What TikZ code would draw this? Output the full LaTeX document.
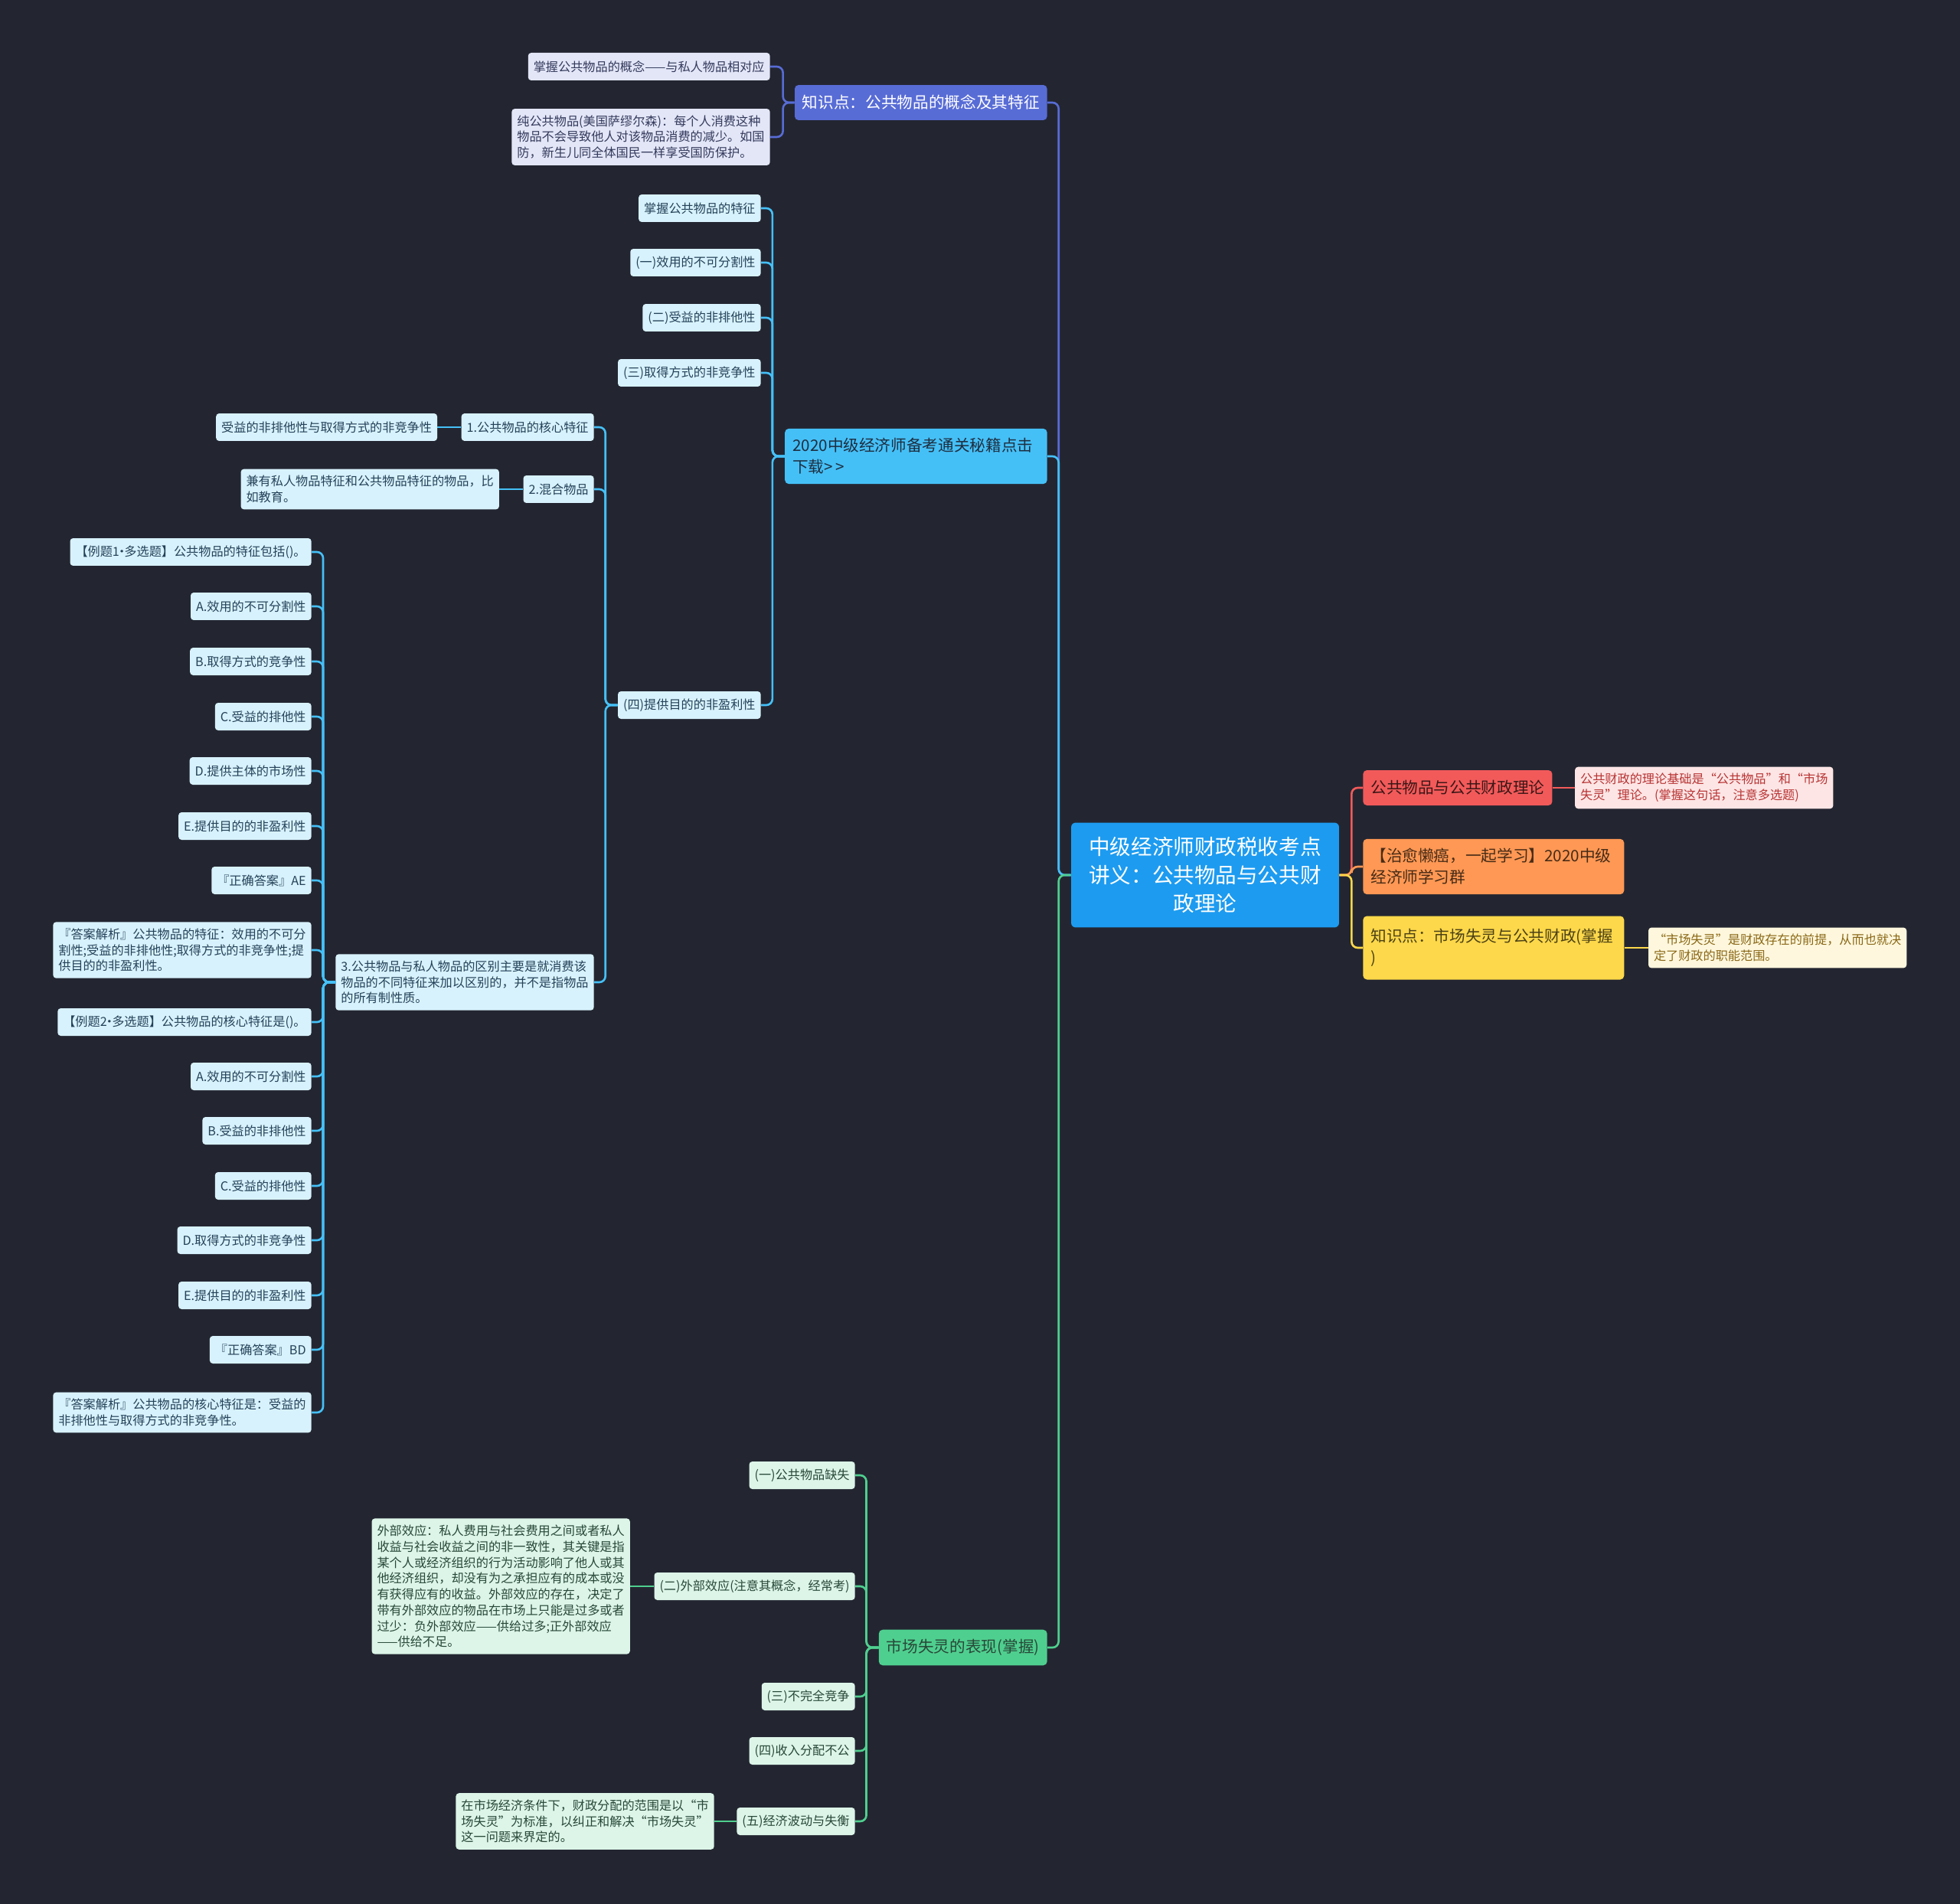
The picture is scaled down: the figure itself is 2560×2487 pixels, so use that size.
\documentclass[tikz,border=0pt]{standalone}
\usepackage{fontspec}
\setmainfont{Noto Sans CJK SC}
\usetikzlibrary{positioning}
\definecolor{bgdark}{RGB}{35,38,49}
\definecolor{RootBlue}{RGB}{29,155,240}
\definecolor{BrIndigo}{RGB}{88,108,214}
\definecolor{BrSky}{RGB}{69,192,247}
\definecolor{BrGreen}{RGB}{79,207,143}
\definecolor{BrRed}{RGB}{242,90,90}
\definecolor{BrOrange}{RGB}{254,152,84}
\definecolor{BrYellow}{RGB}{253,216,74}
\definecolor{FillIndigo}{RGB}{227,230,247}
\definecolor{FillSky}{RGB}{216,242,253}
\definecolor{FillGreen}{RGB}{220,245,232}
\definecolor{FillRed}{RGB}{253,229,229}
\definecolor{FillYellow}{RGB}{254,247,221}
\definecolor{InkIndigo}{RGB}{52,58,92}
\definecolor{InkSky}{RGB}{36,66,88}
\definecolor{InkGreen}{RGB}{40,72,56}
\definecolor{InkRed}{RGB}{184,52,52}
\definecolor{InkYellow}{RGB}{138,104,22}
\definecolor{InkMain}{RGB}{30,46,64}
\newcommand{\mdot}{\kern-0.3em·\kern-0.3em}

\tikzset{
  leaf/.style={rounded corners=0.08cm, font=\fontsize{9.2}{11.8}\selectfont, align=left,
    inner xsep=0.14cm, inner ysep=0.17cm, minimum height=0.72cm},
  leafA/.style={leaf, fill=FillIndigo, text=InkIndigo},
  leafB/.style={leaf, fill=FillSky, text=InkSky},
  leafC/.style={leaf, fill=FillGreen, text=InkGreen},
  leafR/.style={leaf, fill=FillRed, text=InkRed},
  leafY/.style={leaf, fill=FillYellow, text=InkYellow},
  main/.style={rounded corners=0.1cm, fill=#1, font=\fontsize{11.75}{16}\selectfont, align=left,
    inner xsep=0.2cm, inner ysep=0.25cm, minimum height=0.92cm},
  root/.style={rounded corners=0.12cm, fill=RootBlue, text=white, font=\fontsize{15.7}{20.8}\selectfont,
    align=center, minimum width=7cm, minimum height=2.74cm},
  link/.style={draw=#1, line width=1.5pt, rounded corners=0.16cm},
}

\begin{document}
\begin{tikzpicture}[x=0.02cm, y=-0.02cm]
  \fill[bgdark] (0,0) rectangle (2560,2487);
  \useasboundingbox (0,0) rectangle (2560,2487);

  % centre
  \node[root] (root) at (1574,1143) {中级经济师财政税收考点\\讲义：公共物品与公共财\\政理论};

  % left main topics
  \node[main=BrIndigo, text=white, anchor=east] (kA) at (1368,134) {知识点：公共物品的概念及其特征};
  \node[main=BrSky, text=InkMain, anchor=east, text width=6.45cm] (kB) at (1368,596) {2020中级经济师备考通关秘籍点击\\下载{>}\,{>}};
  \node[main=BrGreen, text=InkGreen, anchor=east] (kC) at (1368,2152) {市场失灵的表现(掌握)};

  % right main topics
  \node[main=BrRed, text=black!75!BrRed, anchor=west] (r1) at (1780,1029) {公共物品与公共财政理论};
  \node[main=BrOrange, text=black!72!BrOrange, anchor=west, text width=6.42cm] (r2) at (1780,1132) {【治愈懒癌，一起学习】2020中级\\经济师学习群};
  \node[main=BrYellow, text=black!70!BrYellow, anchor=west, text width=6.42cm, minimum height=1.66cm] (r3) at (1780,1238) {知识点：市场失灵与公共财政(掌握\\)};
  \node[leafR, right=0.58cm of r1] (r1a) {公共财政的理论基础是“公共物品”和“市场\\失灵”理论。(掌握这句话，注意多选题)};
  \node[leafY, right=0.62cm of r3] (r3a) {“市场失灵”是财政存在的前提，从而也就决\\定了财政的职能范围。};

  % concept of public goods
  \node[leafA, anchor=east] (kA1) at (1006,87) {掌握公共物品的概念——与私人物品相对应};
  \node[leafA, anchor=east] (kA2) at (1006,179) {纯公共物品(美国萨缪尔森)：每个人消费这种\\物品不会导致他人对该物品消费的减少。如国\\防，新生儿同全体国民一样享受国防保护。};

  % features
  \foreach \n/\y/\t in {kB1/272/{掌握公共物品的特征}, kB2/343/{(一)效用的不可分割性},
      kB3/415/{(二)受益的非排他性}, kB4/487/{(三)取得方式的非竞争性}, kB5/921/{(四)提供目的的非盈利性}}
    \node[leafB, anchor=east] (\n) at (994,\y) {\t};

  \node[leafB, anchor=east] (c1) at (776,558) {1.公共物品的核心特征};
  \node[leafB, left=0.62cm of c1] (c1a) {受益的非排他性与取得方式的非竞争性};
  \node[leafB, anchor=east] (c2) at (776,639) {2.混合物品};
  \node[leafB, left=0.62cm of c2] (c2a) {兼有私人物品特征和公共物品特征的物品，比\\如教育。};
  \node[leafB, anchor=east] (c3) at (776,1283) {3.公共物品与私人物品的区别主要是就消费该\\物品的不同特征来加以区别的，并不是指物品\\的所有制性质。};

  % exercises
  \foreach \n/\y/\t in {d1/721/{【例题1\mdot 多选题】公共物品的特征包括()。}, d2/792/{A.效用的不可分割性},
      d3/864/{B.取得方式的竞争性}, d4/936/{C.受益的排他性}, d5/1007/{D.提供主体的市场性},
      d6/1079/{E.提供目的的非盈利性}, d7/1150/{『正确答案』AE},
      d8/1241/{『答案解析』公共物品的特征：效用的不可分\\割性;受益的非排他性;取得方式的非竞争性;提\\供目的的非盈利性。},
      d9/1335/{【例题2\mdot 多选题】公共物品的核心特征是()。}, d10/1406/{A.效用的不可分割性},
      d11/1477/{B.受益的非排他性}, d12/1549/{C.受益的排他性}, d13/1620/{D.取得方式的非竞争性},
      d14/1692/{E.提供目的的非盈利性}, d15/1763/{『正确答案』BD},
      d16/1845/{『答案解析』公共物品的核心特征是：受益的\\非排他性与取得方式的非竞争性。}}
    \node[leafB, anchor=east] (\n) at (407,\y) {\t};

  % market failure
  \foreach \n/\y/\t in {e1/1927/{(一)公共物品缺失}, e2/2072/{(二)外部效应(注意其概念，经常考)},
      e3/2216/{(三)不完全竞争}, e4/2287/{(四)收入分配不公}, e5/2379/{(五)经济波动与失衡}}
    \node[leafC, anchor=east] (\n) at (1117,\y) {\t};
  \node[leafC, left=0.62cm of e2] (e2a) {外部效应：私人费用与社会费用之间或者私人\\收益与社会收益之间的非一致性，其关键是指\\某个人或经济组织的行为活动影响了他人或其\\他经济组织，却没有为之承担应有的成本或没\\有获得应有的收益。外部效应的存在，决定了\\带有外部效应的物品在市场上只能是过多或者\\过少：负外部效应——供给过多;正外部效应\\——供给不足。};
  \node[leafC, left=0.58cm of e5] (e5a) {在市场经济条件下，财政分配的范围是以“市\\场失灵”为标准，以纠正和解决“市场失灵”\\这一问题来界定的。};

  % connectors
  \draw[link=BrIndigo] (root.west) -- ++(-16,0) |- (kA.east);
  \draw[link=BrSky] (root.west) -- ++(-16,0) |- (kB.east);
  \draw[link=BrGreen] (root.west) -- ++(-16,0) |- (kC.east);
  \foreach \n/\c in {r1/BrRed, r2/BrOrange, r3/BrYellow}
    \draw[link=\c] (root.east) -- ++(16,0) |- (\n.west);
  \draw[link=BrRed] (r1.east) -- (r1a.west);
  \draw[link=BrYellow] (r3.east) -- (r3a.west);

  \foreach \n in {kA1,kA2}
    \draw[link=BrIndigo] (kA.west) -- ++(-15,0) |- (\n.east);
  \foreach \n in {kB1,kB2,kB3,kB4,kB5}
    \draw[link=BrSky] (kB.west) -- ++(-16,0) |- (\n.east);
  \foreach \n in {c1,c2,c3}
    \draw[link=BrSky] (kB5.west) -- ++(-16,0) |- (\n.east);
  \draw[link=BrSky] (c1.west) -- (c1a.east);
  \draw[link=BrSky] (c2.west) -- (c2a.east);
  \foreach \i in {1,...,16}
    \draw[link=BrSky] (c3.west) -- ++(-16,0) |- (d\i.east);

  \foreach \i in {1,...,5}
    \draw[link=BrGreen] (kC.west) -- ++(-16,0) |- (e\i.east);
  \draw[link=BrGreen] (e2.west) -- (e2a.east);
  \draw[link=BrGreen] (e5.west) -- (e5a.east);
\end{tikzpicture}
\end{document}
